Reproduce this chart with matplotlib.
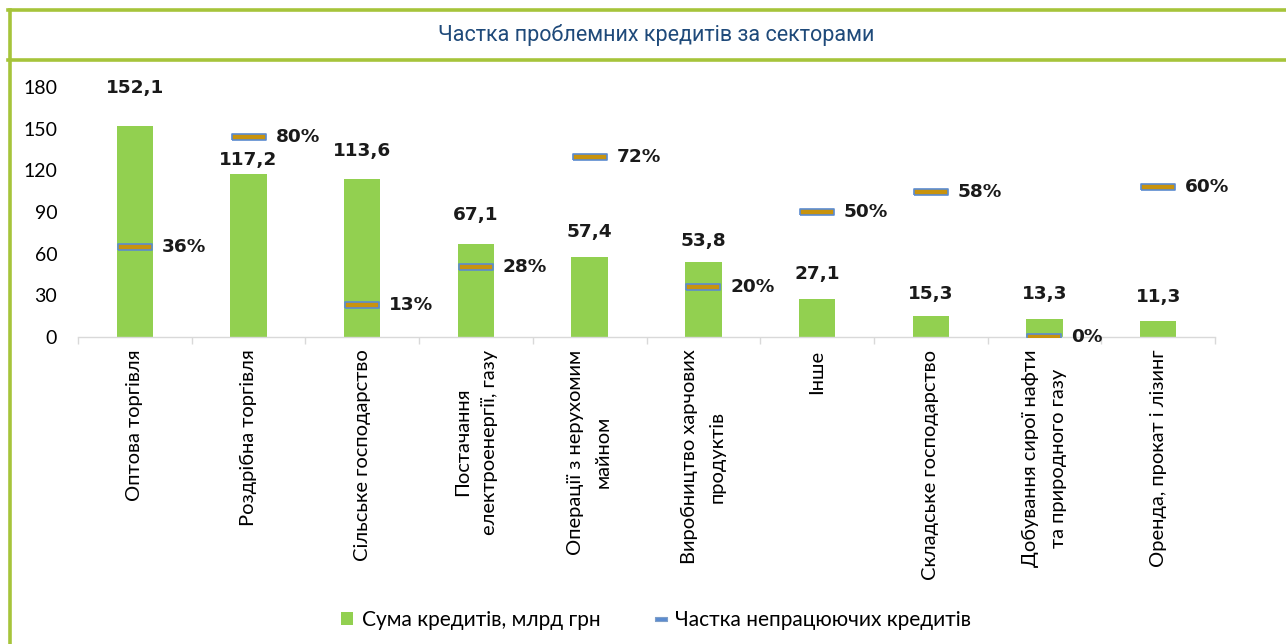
import matplotlib
matplotlib.use("Agg")
import matplotlib.pyplot as plt
from matplotlib.lines import Line2D
from matplotlib.patches import Patch
import numpy as np

categories = [
    "Оптова торгівля",
    "Роздрібна торгівля",
    "Сільське господарство",
    "Постачання\nелектроенергії, газу",
    "Операції з нерухомим\nмайном",
    "Виробництво харчових\nпродуктів",
    "Інше",
    "Складське господарство",
    "Добування сирої нафти\nта природного газу",
    "Оренда, прокат і лізинг",
]
loans = [152.1, 117.2, 113.6, 67.1, 57.4, 53.8, 27.1, 15.3, 13.3, 11.3]
npl_share = [36, 80, 13, 28, 72, 20, 50, 58, 0, 60]
yticks = [0, 30, 60, 90, 120, 150, 180]

title = "Частка проблемних кредитів за секторами"
legend_bar = "Сума кредитів, млрд грн"
legend_mark = "Частка непрацюючих кредитів"

# label offsets above bar tops (pixels), as placed in the original
value_label_offsets = [38, 14, 28, 29, 25, 21, 25, 22, 25, 24]

BAR = "#92D050"
FILL = "#C8930E"
EDGE = "#5B8BD0"
FRAME = "#A6C43A"
BODY_FONT = ["Lato", "DejaVu Sans"]
BOLD_FONT = ["DejaVu Sans"]

W, H = 1286, 644
fig = plt.figure(figsize=(W / 100, H / 100), dpi=100)

# frame lines
fig.add_artist(Line2D([8 / W, 1], [1 - 10 / H, 1 - 10 / H], color=FRAME, lw=2.6))
fig.add_artist(Line2D([8 / W, 1], [1 - 60 / H, 1 - 60 / H], color=FRAME, lw=2.6))
fig.add_artist(Line2D([9.5 / W, 9.5 / W], [0, 1 - 10 / H], color=FRAME, lw=2.6))

fig.text(656 / W, 1 - 35 / H, title, ha="center", va="center",
         fontsize=15.5, color="#1F4A7A", family=["Roboto", "DejaVu Sans"])

left, right, top, bottom = 78, 1215, 87, 337
ax = fig.add_axes([left / W, 1 - bottom / H, (right - left) / W, (bottom - top) / H])
x = np.arange(len(categories))
ax.bar(x, loans, width=0.32, color=BAR, zorder=2)
ax.set_xlim(-0.5, len(categories) - 0.5)
ax.set_ylim(0, 180)
ax.set_yticks(yticks)
ax.set_yticklabels([str(v) for v in yticks], fontsize=14, family=BODY_FONT)
ax.tick_params(axis="y", length=0, pad=15)
ax.set_xticks(x)
ax.set_xticklabels(categories, rotation=90, ha="center", va="top",
                   fontsize=14.5, family=BODY_FONT)
for lbl in ax.get_xticklabels():
    lbl.set_multialignment("center")
    lbl.set_linespacing(1.75)
ax.tick_params(axis="x", length=0, pad=9)
ax.set_xticks(np.arange(-0.5, len(categories), 1.0), minor=True)
ax.tick_params(axis="x", which="minor", length=5, color="#D9D9D9", width=1)
for s in ["top", "right", "left"]:
    ax.spines[s].set_visible(False)
ax.spines["bottom"].set_color("#D9D9D9")
ax.spines["bottom"].set_linewidth(1)

for xi, v, off in zip(x, loans, value_label_offsets):
    ax.annotate(f"{v:.1f}".replace(".", ","), (xi, v), xytext=(0, off),
                textcoords="offset pixels", ha="center", va="center",
                fontsize=13.3, fontweight="bold", family=BOLD_FONT, color="#1a1a1a")

ax2 = ax.twinx()
ax2.set_ylim(0, 100)
ax2.axis("off")
dash = [(-1, -0.2), (1, -0.2), (1, 0.2), (-1, 0.2), (-1, -0.2)]
ax2.plot(x, npl_share, linestyle="none", marker=dash, markersize=24.5,
         markerfacecolor=FILL, markeredgecolor=EDGE, markeredgewidth=1.2, zorder=3)
for xi, p in zip(x, npl_share):
    ax2.annotate(f"{p}%", (xi, p), xytext=(27, 0), textcoords="offset pixels",
                 ha="left", va="center", fontsize=13.3, fontweight="bold",
                 family=BOLD_FONT, color="#1a1a1a")

legend_dash = [(-1, -0.35), (1, -0.35), (1, 0.35), (-1, 0.35), (-1, -0.35)]
handles = [
    Patch(facecolor=BAR, edgecolor="none"),
    Line2D([], [], linestyle="none", marker=legend_dash, markersize=9,
           markerfacecolor="#5B8BD0", markeredgecolor="#7F9FC8", markeredgewidth=0.8),
]
fig.legend(handles, [legend_bar, legend_mark], loc="center",
           bbox_to_anchor=(656 / W, 1 - 620 / H), ncol=2, frameon=False,
           prop={"family": BODY_FONT, "size": 15}, handlelength=0.6,
           handleheight=0.6, handletextpad=0.4, columnspacing=2.6)

fig.savefig("out.png", dpi=100)
